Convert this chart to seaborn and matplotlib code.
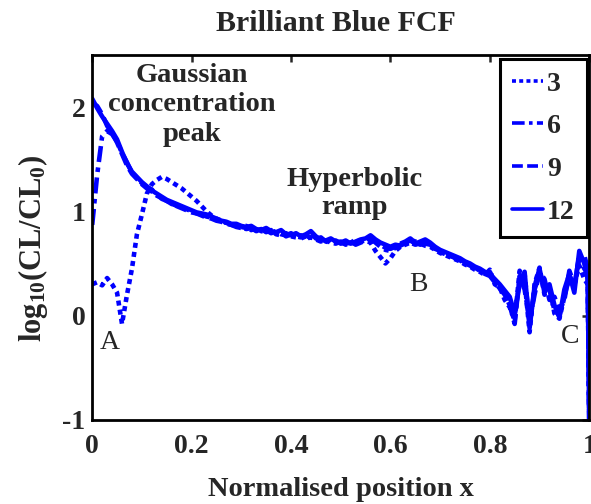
import numpy as np
import pandas as pd
import seaborn as sns
import matplotlib
matplotlib.use("Agg")
import matplotlib.pyplot as plt

# ---------------- data ----------------
x_pos = [round(i * 0.01, 2) for i in range(100)] + [0.997, 1.0]

s3 = [0.30, 0.32, 0.29, 0.36, 0.30, 0.22, -0.08, 0.20, 0.45, 0.78,
      0.97, 1.17, 1.26, 1.30, 1.33, 1.31, 1.28, 1.25, 1.22, 1.18,
      1.14, 1.10, 1.05, 1.00, 0.96, 0.93, 0.91, 0.89, 0.88, 0.86,
      0.85, 0.84, 0.82, 0.84, 0.81, 0.80, 0.82, 0.78, 0.77, 0.79,
      0.76, 0.75, 0.77, 0.74, 0.75, 0.73, 0.71, 0.72, 0.70, 0.69,
      0.71, 0.68, 0.70, 0.69, 0.71, 0.72, 0.70, 0.62, 0.56, 0.50,
      0.55, 0.62, 0.66, 0.68, 0.70, 0.68, 0.69, 0.67, 0.66, 0.63,
      0.60, 0.58, 0.56, 0.54, 0.52, 0.49, 0.47, 0.44, 0.42, 0.39,
      0.44, 0.30, 0.27, 0.15, 0.08, -0.05, 0.43, 0.33, -0.16, 0.30,
      0.46, 0.20, 0.28, 0.02, -0.03, 0.18, 0.38, 0.30, 0.48, 0.35,
      0.30, -1.00]

s6 = [0.87, 1.35, 1.72, 1.77, 1.74, 1.67, 1.56, 1.47, 1.37, 1.32,
      1.27, 1.23, 1.21, 1.15, 1.13, 1.10, 1.07, 1.06, 1.04, 1.02,
      1.00, 0.98, 0.97, 0.95, 0.94, 0.92, 0.90, 0.89, 0.87, 0.86,
      0.85, 0.83, 0.84, 0.81, 0.83, 0.80, 0.82, 0.79, 0.80, 0.76,
      0.78, 0.77, 0.74, 0.76, 0.79, 0.74, 0.72, 0.70, 0.73, 0.70,
      0.71, 0.69, 0.70, 0.72, 0.71, 0.73, 0.74, 0.70, 0.66, 0.63,
      0.62, 0.65, 0.68, 0.69, 0.73, 0.71, 0.70, 0.69, 0.68, 0.65,
      0.61, 0.59, 0.58, 0.55, 0.54, 0.51, 0.49, 0.45, 0.44, 0.41,
      0.42, 0.33, 0.28, 0.22, 0.15, 0.00, 0.35, 0.40, -0.08, 0.25,
      0.40, 0.28, 0.25, 0.05, 0.00, 0.20, 0.35, 0.28, 0.58, 0.45,
      0.40, -1.00]

s9 = [2.04, 2.01, 1.93, 1.82, 1.75, 1.66, 1.55, 1.44, 1.36, 1.31,
      1.26, 1.22, 1.19, 1.16, 1.12, 1.10, 1.08, 1.05, 1.03, 1.01,
      0.99, 0.98, 0.96, 0.94, 0.93, 0.91, 0.90, 0.88, 0.87, 0.85,
      0.84, 0.86, 0.83, 0.82, 0.80, 0.82, 0.79, 0.81, 0.78, 0.77,
      0.79, 0.76, 0.75, 0.77, 0.74, 0.73, 0.75, 0.71, 0.70, 0.72,
      0.69, 0.70, 0.72, 0.68, 0.70, 0.72, 0.75, 0.71, 0.68, 0.65,
      0.64, 0.66, 0.69, 0.71, 0.74, 0.70, 0.68, 0.71, 0.67, 0.64,
      0.62, 0.60, 0.57, 0.56, 0.53, 0.50, 0.48, 0.46, 0.43, 0.40,
      0.38, 0.32, 0.26, 0.20, 0.10, -0.08, 0.38, 0.25, -0.05, 0.20,
      0.42, 0.35, 0.15, 0.18, 0.05, 0.15, 0.43, 0.30, 0.55, 0.58,
      0.45, -1.00]

s12 = [2.08, 1.99, 1.91, 1.84, 1.77, 1.69, 1.57, 1.46, 1.38, 1.33,
       1.28, 1.24, 1.20, 1.17, 1.14, 1.11, 1.09, 1.07, 1.05, 1.03,
       1.01, 0.99, 0.98, 0.97, 0.95, 0.93, 0.91, 0.90, 0.88, 0.88,
       0.86, 0.85, 0.86, 0.83, 0.82, 0.84, 0.81, 0.80, 0.82, 0.78,
       0.77, 0.79, 0.76, 0.78, 0.81, 0.76, 0.73, 0.72, 0.74, 0.71,
       0.70, 0.72, 0.69, 0.71, 0.73, 0.74, 0.77, 0.73, 0.70, 0.68,
       0.66, 0.68, 0.67, 0.70, 0.72, 0.69, 0.71, 0.73, 0.70, 0.66,
       0.63, 0.61, 0.59, 0.57, 0.55, 0.52, 0.50, 0.47, 0.45, 0.42,
       0.40, 0.35, 0.30, 0.24, 0.18, 0.02, 0.30, 0.42, -0.12, 0.28,
       0.45, 0.22, 0.30, 0.10, -0.02, 0.25, 0.40, 0.22, 0.62, 0.50,
       0.35, -1.00]

series_names = ["3", "6", "9", "12"]
series_values = [s3, s6, s9, s12]

x_ticks = [0, 0.2, 0.4, 0.6, 0.8, 1]
x_tick_labels = ["0", "0.2", "0.4", "0.6", "0.8", "1"]
y_ticks = [-1, 0, 1, 2]
y_tick_labels = ["-1", "0", "1", "2"]

df = pd.concat(
    [pd.DataFrame({"x": x_pos, "y": v, "series": n})
     for n, v in zip(series_names, series_values)],
    ignore_index=True,
)

# ---------------- style ----------------
sns.set_style("white")
plt.rcParams["font.family"] = ["Liberation Serif", "DejaVu Serif"]
plt.rcParams["font.weight"] = "bold"
plt.rcParams["mathtext.fontset"] = "custom"
plt.rcParams["mathtext.rm"] = "Liberation Serif:bold"
plt.rcParams["mathtext.it"] = "Liberation Serif:bold"
plt.rcParams["mathtext.bf"] = "Liberation Serif:bold"
plt.rcParams["axes.unicode_minus"] = False

FS = 20

fig = plt.figure(figsize=(5.91, 5.04), dpi=100)
ax = fig.add_axes([0.156, 0.167, 0.841, 0.724])

dash_map = {"3": (1.1, 0.9), "6": (3.5, 1.2, 1.0, 1.2), "9": (3.0, 1.2), "12": ""}
sns.lineplot(data=df, x="x", y="y", style="series", style_order=series_names,
             dashes=dash_map, color="#0000ff", linewidth=3.3,
             estimator=None, sort=False, ax=ax, legend=True)

ax.set_xlim(0, 1)
ax.set_ylim(-1, 2.5)
ax.set_xticks(x_ticks)
ax.set_xticklabels(x_tick_labels, fontsize=FS, fontweight="bold")
ax.set_yticks(y_ticks)
ax.set_yticklabels(y_tick_labels, fontsize=FS, fontweight="bold")
ax.tick_params(direction="in", length=5, width=1.8, top=True, right=True)
ax.tick_params(axis="x", pad=10)
ax.tick_params(axis="y", pad=5)
for sp in ax.spines.values():
    sp.set_visible(True)
    sp.set_color("black")
    sp.set_linewidth(2.0)

ax.set_xlabel("Normalised position x", fontsize=FS + 0.5, fontweight="bold",
              labelpad=13)
ax.set_ylabel(r"$\mathrm{log_{10}(CL/CL_0)}$", fontsize=FS + 2)
ax.yaxis.set_label_coords(-0.084, 0.47)
ax.set_title("Brilliant Blue FCF", fontsize=FS + 1.5, fontweight="bold",
             pad=17, x=0.49)

handles, labels = ax.get_legend_handles_labels()
leg = ax.legend(handles, labels, loc="upper right",
                bbox_to_anchor=(0.996, 0.99), fontsize=FS,
                frameon=True, fancybox=False, framealpha=1,
                edgecolor="black", handlelength=1.1, handletextpad=0.15,
                labelspacing=0.62, borderpad=0.45, borderaxespad=0)
leg.get_frame().set_linewidth(2.2)
for t in leg.get_texts():
    t.set_fontweight("bold")
for h in leg.get_lines():
    h.set_linewidth(2.6)

ax.text(0.2, 2.02, "Gaussian\nconcentration\npeak", fontsize=FS + 0.5,
        fontweight="bold", ha="center", va="center", linespacing=1.25)
ax.text(0.528, 1.17, "Hyperbolic\nramp", fontsize=FS + 0.5, fontweight="bold",
        ha="center", va="center", linespacing=1.2)
ax.text(0.036, -0.26, "A", fontsize=FS, fontweight="normal",
        ha="center", va="center")
ax.text(0.657, 0.30, "B", fontsize=FS, fontweight="normal",
        ha="center", va="center")
ax.text(0.962, -0.20, "C", fontsize=FS, fontweight="normal",
        ha="center", va="center")

fig.savefig("out.png", dpi=100)
